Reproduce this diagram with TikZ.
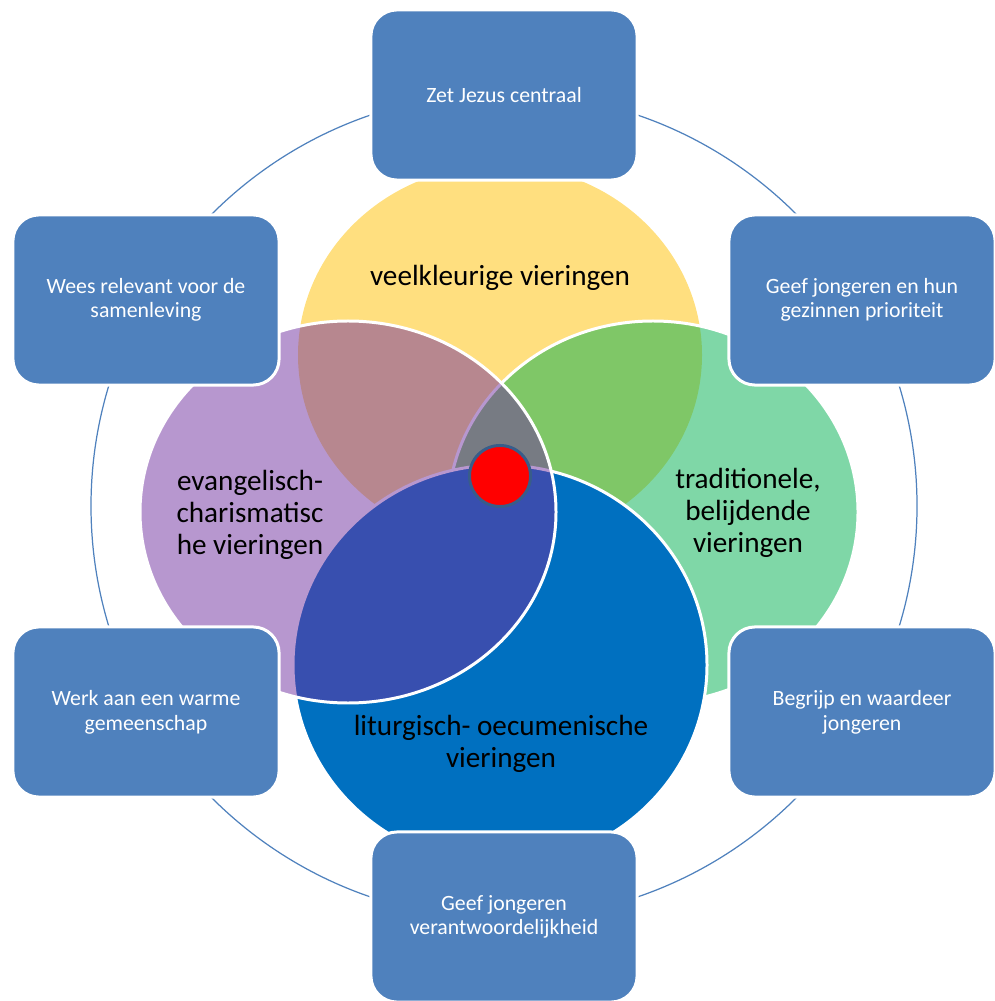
\documentclass[tikz,border=0pt]{standalone}
\usepackage{fontspec}
\setmainfont{Carlito}
\usepackage{tikz}

\definecolor{boxblue}{HTML}{4F81BD}
\definecolor{vennyellow}{HTML}{FFC000}
\definecolor{venngreen}{HTML}{00B050}
\definecolor{vennblue}{HTML}{0070C0}
\definecolor{vennpurple}{HTML}{7030A0}
\definecolor{dotline}{HTML}{385D8A}

\begin{document}
\begin{tikzpicture}[
  x=0.01cm, y=-0.01cm,
  goal/.style={draw=white, line width=0.85pt, fill=boxblue, rounded corners=0.26cm,
    minimum width=2.66cm, minimum height=1.70cm, text=white, align=center,
    font=\fontsize{6.2}{7}\selectfont},
  oval/.style={draw=white, line width=0.85pt},
  venntext/.style={align=center, font=\fontsize{8.3}{9.1}\selectfont}
  ]
  \useasboundingbox (0,0) rectangle (994,1001);

  % ring behind the goals
  \draw[boxblue, line width=0.35pt] (504,506) circle [radius=413];

  % the four kinds of vieringen
  \fill[vennyellow, fill opacity=0.5] (500,355) ellipse [x radius=202, y radius=190];
  \draw[oval, fill=venngreen, fill opacity=0.5] (653,512) ellipse [x radius=205, y radius=191];
  \draw[oval, fill=vennblue] (500,665) ellipse [x radius=207, y radius=200];
  \draw[oval, fill=vennpurple, fill opacity=0.5] (348,512) ellipse [x radius=208, y radius=191];

  \node[circle, draw=dotline, line width=0.85pt, fill=red, minimum size=0.61cm, inner sep=0pt] (kern) at (500,476) {};

  \node[venntext] (veelkleurig) at (500,278) {veelkleurige vieringen};
  \node[venntext] (evangelisch) at (250,515) {evangelisch-\\charismatisc\\he vieringen};
  \node[venntext] (traditioneel) at (748,513) {traditionele,\\belijdende\\vieringen};
  \node[venntext] (liturgisch) at (501,744) {liturgisch- oecumenische\\vieringen};

  % goals
  \node[goal] (jezus) at (504,95) {Zet Jezus centraal};
  \node[goal] (samenleving) at (146,300) {Wees relevant voor de\\samenleving};
  \node[goal] (gezinnen) at (862,300) {Geef jongeren en hun\\gezinnen prioriteit};
  \node[goal] (gemeenschap) at (146,712) {Werk aan een warme\\gemeenschap};
  \node[goal] (waardeer) at (862,712) {Begrijp en waardeer\\jongeren};
  \node[goal] (verantwoordelijk) at (504,917) {Geef jongeren\\verantwoordelijkheid};
\end{tikzpicture}
\end{document}
